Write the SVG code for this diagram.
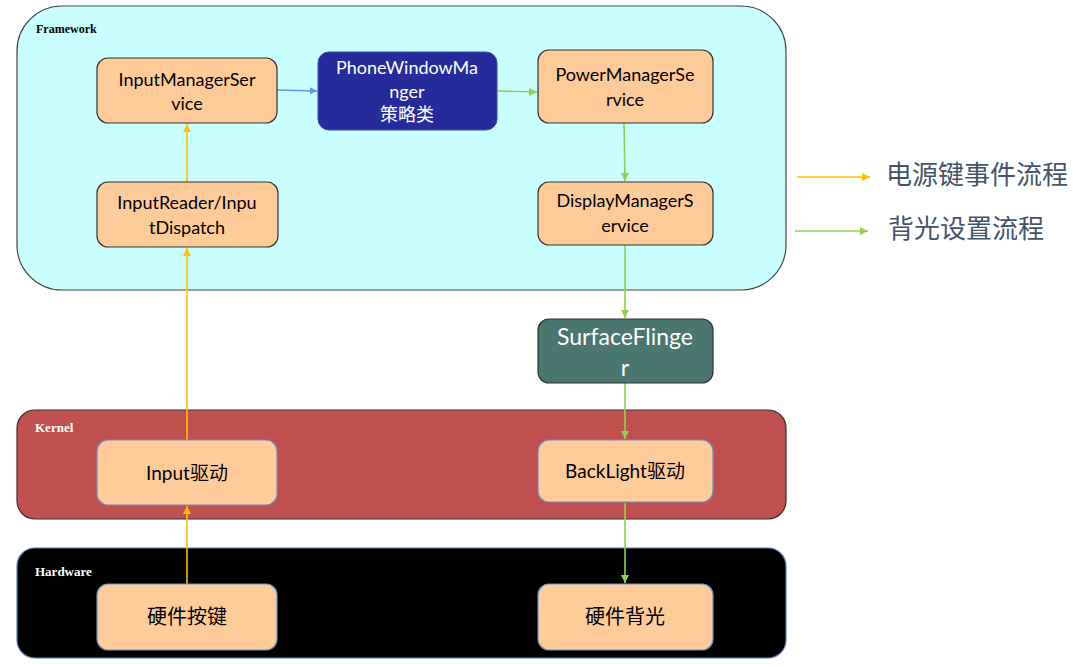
<svg xmlns="http://www.w3.org/2000/svg" width="1080" height="667" viewBox="0 0 1080 667">
<style>
.lbl{font-family:"Liberation Serif",serif;font-weight:bold;font-size:12px}
.t{font-family:Lato,"Noto Sans CJK SC",sans-serif;font-size:18px;fill:#000;text-anchor:middle}
.tw{font-family:Lato,"Noto Sans CJK SC",sans-serif;font-size:18px;fill:#fff;text-anchor:middle}
.node{fill:#ffcc99;stroke:#333;stroke-width:1.2}
.knode{fill:#ffcc99;stroke:#6d8fc4;stroke-width:1.2}
.y{stroke:#ffc000;stroke-width:1.6;fill:none}
.g{stroke:#92d050;stroke-width:1.6;fill:none}
.b{stroke:#5b9bd5;stroke-width:1.4;fill:none}
.leg{font-family:"Noto Sans CJK SC",sans-serif;font-size:26px;fill:#44546a}
</style>
<defs>
<marker id="ay" viewBox="0 0 10 10" refX="10" refY="5" markerWidth="5" markerHeight="5" orient="auto" markerUnits="strokeWidth"><path d="M0,0L10,5L0,10z" fill="#ffc000"/></marker>
<marker id="ag" viewBox="0 0 10 10" refX="10" refY="5" markerWidth="5" markerHeight="5" orient="auto" markerUnits="strokeWidth"><path d="M0,0L10,5L0,10z" fill="#92d050"/></marker>
<marker id="ab" viewBox="0 0 10 10" refX="10" refY="5" markerWidth="5" markerHeight="5" orient="auto" markerUnits="strokeWidth"><path d="M0,0L10,5L0,10z" fill="#5b9bd5"/></marker>
</defs>
<rect width="1080" height="667" fill="#fff"/>

<g id="framework">
<rect x="17" y="6" width="769" height="284" rx="45" fill="#c9ffff" stroke="#444" stroke-width="1.2"/>
<text class="lbl" x="36" y="33" fill="#000">Framework</text>
</g>
<g id="kernel">
<rect x="17" y="410" width="769" height="109" rx="18" fill="#c0504d" stroke="#333" stroke-width="1.2"/>
<text class="lbl" x="35" y="432" fill="#fff" style="font-size:13px">Kernel</text>
</g>
<g id="hardware">
<rect x="17" y="548" width="769" height="110" rx="18" fill="#000" stroke="#5b7fb0" stroke-width="1.2"/>
<text class="lbl" x="35" y="576" fill="#fff" style="font-size:13px">Hardware</text>
</g>

<g id="connectors">
<line class="y" x1="187" y1="182" x2="187" y2="124" marker-end="url(#ay)"/>
<line class="y" x1="187" y1="440" x2="187" y2="248" marker-end="url(#ay)"/>
<line class="y" x1="187" y1="584" x2="187" y2="506" marker-end="url(#ay)"/>
<line class="b" x1="277" y1="90" x2="317" y2="91" marker-end="url(#ab)"/>
<line class="g" x1="497" y1="91" x2="537" y2="92" marker-end="url(#ag)"/>
<line class="g" x1="624" y1="123" x2="625" y2="181" marker-end="url(#ag)"/>
<line class="g" x1="625" y1="245" x2="625" y2="318" marker-end="url(#ag)"/>
<line class="g" x1="625" y1="383" x2="625" y2="439" marker-end="url(#ag)"/>
<line class="g" x1="625" y1="503" x2="625" y2="583" marker-end="url(#ag)"/>
<line class="y" x1="797" y1="177" x2="870" y2="177" marker-end="url(#ay)"/>
<line class="g" x1="795" y1="231" x2="868" y2="231" marker-end="url(#ag)"/>
</g>

<g id="ims">
<rect class="node" x="97" y="58" width="180" height="65" rx="11"/>
<text class="t" x="187" y="86">InputManagerSer</text>
<text class="t" x="187" y="110">vice</text>
</g>
<g id="pwm">
<rect x="318" y="52" width="179" height="78" rx="11" fill="#262b9c" stroke="#3a4ab0" stroke-width="1"/>
<text class="tw" x="407" y="74">PhoneWindowMa</text>
<text class="tw" x="407" y="98">nger</text>
<text class="tw" x="407" y="121">策略类</text>
</g>
<g id="pms">
<rect class="node" x="538" y="50" width="175" height="73" rx="11"/>
<text class="t" x="625" y="81">PowerManagerSe</text>
<text class="t" x="625" y="106">rvice</text>
</g>
<g id="ird">
<rect class="node" x="97" y="182" width="181" height="65" rx="11"/>
<text class="t" x="187" y="209">InputReader/Inpu</text>
<text class="t" x="187" y="234">tDispatch</text>
</g>
<g id="dms">
<rect class="node" x="538" y="182" width="175" height="63" rx="11"/>
<text class="t" x="625" y="207">DisplayManagerS</text>
<text class="t" x="625" y="232">ervice</text>
</g>
<g id="sf">
<rect x="538" y="319" width="175" height="64" rx="11" fill="#4a7670" stroke="#333" stroke-width="1.2"/>
<text class="tw" x="625" y="345" style="font-size:23px">SurfaceFlinge</text>
<text class="tw" x="625" y="376" style="font-size:23px">r</text>
</g>
<g id="inputdrv">
<rect class="knode" x="97" y="440" width="180" height="65" rx="11"/>
<text class="t" x="187" y="480" style="font-size:19px">Input驱动</text>
</g>
<g id="bldrv">
<rect class="knode" x="538" y="440" width="175" height="62" rx="11"/>
<text class="t" x="625" y="478" style="font-size:19px">BackLight驱动</text>
</g>
<g id="hwkey">
<rect class="knode" x="97" y="584" width="180" height="66" rx="11"/>
<text class="t" x="187" y="624" style="font-size:20px">硬件按键</text>
</g>
<g id="hwbl">
<rect class="knode" x="538" y="584" width="175" height="66" rx="11"/>
<text class="t" x="625" y="624" style="font-size:20px">硬件背光</text>
</g>

<g id="legend">
<text class="leg" x="886" y="184">电源键事件流程</text>
<text class="leg" x="888" y="238">背光设置流程</text>
</g>
</svg>
